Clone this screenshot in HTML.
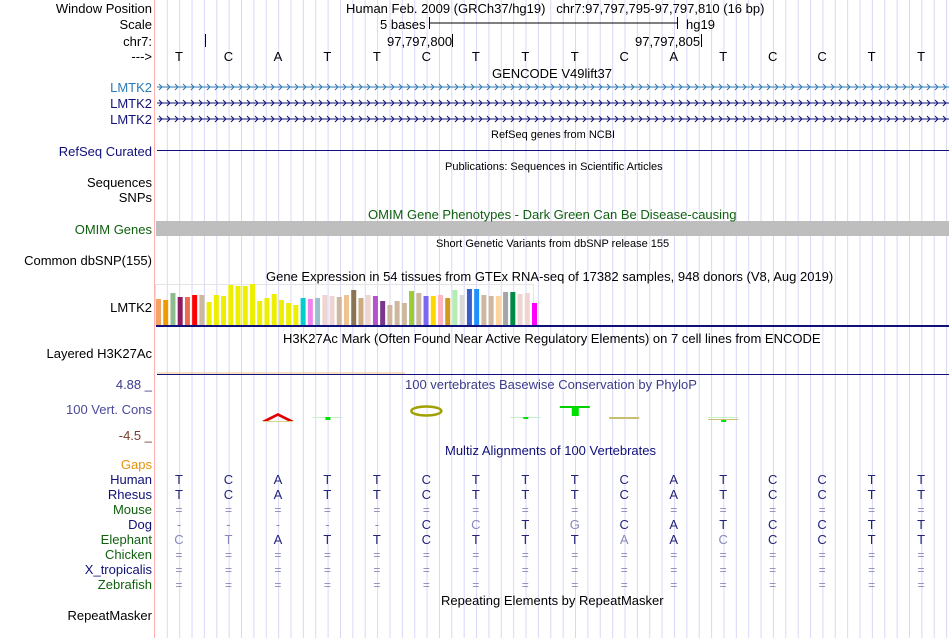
<!DOCTYPE html>
<html><head><meta charset="utf-8">
<style>
body{margin:0;width:950px;height:638px;background:#fff;overflow:hidden;font-family:"Liberation Sans",sans-serif;position:relative}
.l{position:absolute;right:798px;font-size:13px;white-space:nowrap;line-height:13px}
.t{position:absolute;font-size:13px;white-space:nowrap;line-height:13px}
.s{font-size:11px}
svg{position:absolute;left:0;top:0}
</style></head><body>
<svg id="g" width="950" height="638"></svg>
<div class="l" style="top:2px">Window Position</div>
<div class="l" style="top:18px">Scale</div>
<div class="l" style="top:35px">chr7:</div>
<div class="l" style="top:50px">---&gt;</div>
<div class="l" style="top:81px;color:#2a7ab6">LMTK2</div>
<div class="l" style="top:97px;color:#10107a">LMTK2</div>
<div class="l" style="top:113px;color:#10107a">LMTK2</div>
<div class="l" style="top:145px;color:#10107a">RefSeq Curated</div>
<div class="l" style="top:176px">Sequences</div>
<div class="l" style="top:191px">SNPs</div>
<div class="l" style="top:223px;color:#106010">OMIM Genes</div>
<div class="l" style="top:254px">Common dbSNP(155)</div>
<div class="l" style="top:301px">LMTK2</div>
<div class="l" style="top:347px">Layered H3K27Ac</div>
<div class="l" style="top:378px;color:#3c3c8c">4.88 _</div>
<div class="l" style="top:403px;color:#4a4a9c">100 Vert. Cons</div>
<div class="l" style="top:429px;color:#7a3c2c">-4.5 _</div>
<div class="l" style="top:458px;color:#e8900c">Gaps</div>
<div class="l" style="top:473px;color:#10107a">Human</div>
<div class="l" style="top:488px;color:#10107a">Rhesus</div>
<div class="l" style="top:503px;color:#106010">Mouse</div>
<div class="l" style="top:518px;color:#10107a">Dog</div>
<div class="l" style="top:533px;color:#106010">Elephant</div>
<div class="l" style="top:548px;color:#106010">Chicken</div>
<div class="l" style="top:563px;color:#10107a">X_tropicalis</div>
<div class="l" style="top:578px;color:#106010">Zebrafish</div>
<div class="l" style="top:609px">RepeatMasker</div>

<div class="t" style="top:2px;left:346px">Human Feb. 2009 (GRCh37/hg19)&nbsp;&nbsp;&nbsp;chr7:97,797,795-97,797,810 (16 bp)</div>
<div class="t" style="top:18px;left:380px">5 bases</div>
<div class="t" style="top:18px;left:686px">hg19</div>
<div class="t" style="top:35px;left:387px">97,797,800</div>
<div class="t" style="top:35px;left:635px">97,797,805</div>
<div class="t" style="top:67px;left:492px">GENCODE V49lift37</div>
<div class="t s" style="top:129px;left:491px">RefSeq genes from NCBI</div>
<div class="t s" style="top:161px;left:445px">Publications: Sequences in Scientific Articles</div>
<div class="t" style="top:208px;left:368px;color:#106010">OMIM Gene Phenotypes - Dark Green Can Be Disease-causing</div>
<div class="t s" style="top:238px;left:436px">Short Genetic Variants from dbSNP release 155</div>
<div class="t" style="top:270px;left:266px">Gene Expression in 54 tissues from GTEx RNA-seq of 17382 samples, 948 donors (V8, Aug 2019)</div>
<div class="t" style="top:332px;left:283px">H3K27Ac Mark (Often Found Near Active Regulatory Elements) on 7 cell lines from ENCODE</div>
<div class="t" style="top:378px;left:405px;color:#3c3c8c">100 vertebrates Basewise Conservation by PhyloP</div>
<div class="t" style="top:444px;left:445px;color:#10107a">Multiz Alignments of 100 Vertebrates</div>
<div class="t" style="top:594px;left:441px">Repeating Elements by RepeatMasker</div>

<script>
const bases = ["T","C","A","T","T","C","T","T","T","C","A","T","C","C","T","T"];
const rhesus = ["T","C","A","T","T","C","T","T","T","C","A","T","C","C","T","T"];
const mouse = ["=","=","=","=","=","=","=","=","=","=","=","=","=","=","=","="];
const dog = ["-","-","-","-","-","C","C","T","G","C","A","T","C","C","T","T"];
const elephant = ["C","T","A","T","T","C","T","T","T","A","A","C","C","C","T","T"];
const chicken = mouse, xtrop = mouse, zebrafish = mouse;
const gtexValues = [26,25,32,28,28,30,30,23,30,29,40,39,39,41,24,27,31,25,22,20,27,26,27,30,29,28,30,35,27,30,29,24,20,24,22,34,32,29,29,30,27,35,30,36,36,30,29,29,33,33,31,32,22];
const gtexColors = ["#f4a460","#ee9a00","#8fbc8f","#8b1c62","#ee6a50","#ff0000","#cdb79e","#eeee00","#eeee00","#eeee00","#eeee00","#eeee00","#eeee00","#eeee00","#eeee00","#eeee00","#eeee00","#eeee00","#eeee00","#eeee00","#00cdcd","#ee82ee","#9ac0cd","#eed5d2","#eed5d2","#cdb79e","#eec591","#8b7355","#cdaa7d","#eed5d2","#b452cd","#7a378b","#cdb79e","#cdb79e","#cdb79e","#9acd32","#cdb79e","#7b68ee","#ffd700","#ffb6c1","#cd9b1d","#b4eeb4","#d9d9d9","#3a5fcd","#1e90ff","#cdb79e","#cdb79e","#ffd39b","#a6a6a6","#008b45","#eed5d2","#eed5d2","#ff00ff"];

const NS="http://www.w3.org/2000/svg";
const g=document.getElementById('g');
function el(tag,attrs,name){const e=document.createElementNS(NS,tag);for(const k in attrs)e.setAttribute(k,attrs[k]);


g.appendChild(e);return e;}
const X0=154, PITCH=49.47;
const baseX=i=>X0+25+i*PITCH;
// grid
for(let k=0;k<64;k++){const x=167.3+k*12.37; if(x>949)break; el('line',{x1:x,x2:x,y1:0,y2:638,stroke:'#d8d8f6','stroke-width':1},'grid-line');}
el('line',{x1:154.5,x2:154.5,y1:0,y2:638,stroke:'#ffb0b0','stroke-width':1},'image-divider');
// ruler
el('line',{x1:429,x2:677,y1:23,y2:23,stroke:'#000'},'scale-bar');
el('line',{x1:429.5,x2:429.5,y1:17,y2:29,stroke:'#000'},'scale-bar-left');
el('line',{x1:677.5,x2:677.5,y1:17,y2:29,stroke:'#000'},'scale-bar-right');
el('line',{x1:205.5,x2:205.5,y1:34,y2:47,stroke:'#000'},'tick-795');
el('line',{x1:452.5,x2:452.5,y1:34,y2:47,stroke:'#000'},'tick-800');
el('line',{x1:701.5,x2:701.5,y1:34,y2:47,stroke:'#000'},'tick-805');
function txt(x,y,s,col,name,size){const t=el('text',{x:x,y:y,'text-anchor':'middle',fill:col,'font-family':'Liberation Sans, sans-serif','font-size':size||13},name);t.textContent=s;return t;}
bases.forEach((b,i)=>txt(baseX(i),61,b,'#000','base-letter'));
// gene lines with chevrons
[[87,'#2a7ab6'],[103,'#10107a'],[119,'#10107a']].forEach(([y,c],j)=>{
 el('line',{x1:157,x2:949,y1:y,y2:y,stroke:c,'stroke-width':1},'gene-line');
 let d='';for(let x=159;x<948;x+=8){d+=`M${x},${y-3}L${x+3},${y}L${x},${y+3}`;}
 el('path',{d:d,stroke:c,fill:'none','stroke-width':1},'gene-chevrons');
});
el('line',{x1:157,x2:949,y1:150.5,y2:150.5,stroke:'#10107a'},'refseq-line');
el('rect',{x:156,y:221,width:793,height:15,fill:'#bebebe'},'omim-bar');
// GTEx bars
const bx0=156, bpitch=(532-156)/(gtexValues.length-1), base=325, hs=1.0;
el('rect',{x:155.5,y:284.5,width:378,height:41,fill:'none',stroke:'#e4e4e4'},'gtex-frame');
gtexValues.forEach((v,i)=>{el('rect',{x:bx0+i*bpitch,y:base-v*hs,width:5,height:v*hs,fill:gtexColors[i]},'gtex-bar');});
el('rect',{x:156,y:325,width:793,height:2,fill:'#10107a'},'gtex-baseline');
// H3K27Ac
el('line',{x1:157,x2:405,y1:373,y2:373,stroke:'#f0c080'},'h3k27ac-line');
el('line',{x1:157,x2:949,y1:374.5,y2:374.5,stroke:'#10107a'},'h3k27ac-baseline');
// conservation glyphs
el('path',{d:`M${baseX(2)-16},421L${baseX(2)},413L${baseX(2)+16},421L${baseX(2)+10},421L${baseX(2)},416L${baseX(2)-10},421Z`,fill:'#e00000'},'cons-a');
el('rect',{x:baseX(2)-15,y:421,width:30,height:1,fill:'#d8d080'},'cons-a-base');
[[3,418,3],[7,418,2],[11,420,3]].forEach(([i,y,h])=>{el('line',{x1:baseX(i)-15,x2:baseX(i)+15,y1:417.5,y2:417.5,stroke:'#c8f0c8'},'cons-line');el('rect',{x:baseX(i)-2,y:y-1,width:5,height:h,fill:'#00e000'},'cons-mark');});
el('ellipse',{cx:baseX(5),cy:411,rx:15,ry:4.5,fill:'none',stroke:'#a0a000','stroke-width':2.5},'cons-c');
el('rect',{x:baseX(8)-15,y:406,width:30,height:2,fill:'#00d000'},'cons-t-top');
el('rect',{x:baseX(8)-3,y:407,width:7,height:9,fill:'#00e000'},'cons-t-stem');
el('rect',{x:baseX(9)-15,y:417,width:30,height:2,fill:'#c8c070'},'cons-line-10');
el('rect',{x:baseX(11)-15,y:419,width:30,height:1,fill:'#c8c070'},'cons-line-12');
// alignments
const rows=[[bases,479],[rhesus,494],[mouse,509],[dog,524],[elephant,539],[chicken,554],[xtrop,569],[zebrafish,584]];
rows.forEach(([arr,y],r)=>{arr.forEach((c,i)=>{let col='#23237a';if(c==='='||c==='-'||(r>0&&c!==bases[i]))col='#8888bb';txt(baseX(i),y+5,c,col,'alignment-base',c==='='?12:13);});});
</script>
</body></html>
